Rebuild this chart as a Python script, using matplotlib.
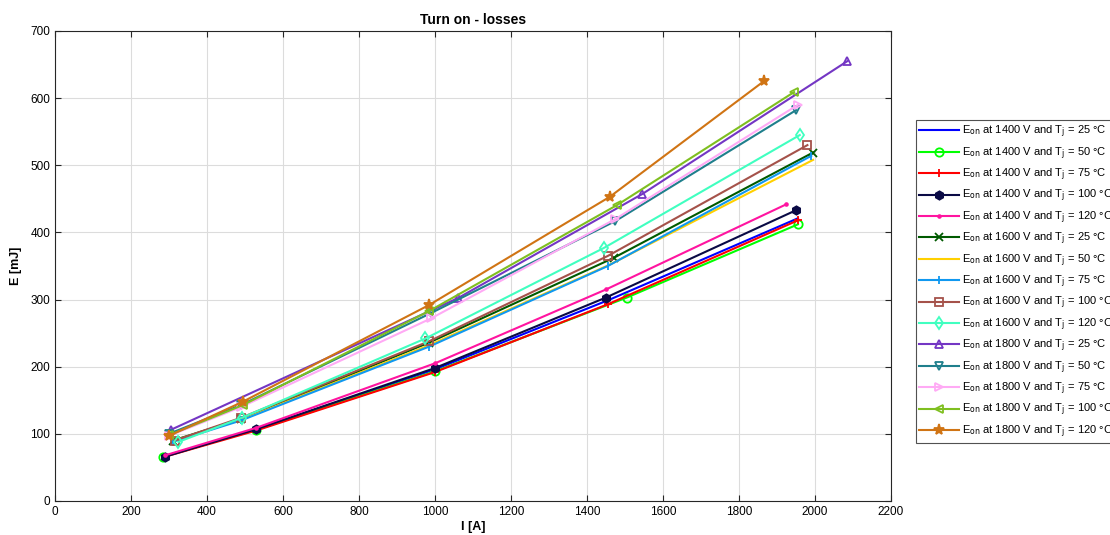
import matplotlib.pyplot as plt

# 电流 / 能量数据
i_1400_25 = [290, 530, 1000, 1460, 1955]
e_1400_25 = [67, 107, 196, 300, 421]
i_1400_50 = [285, 530, 1000, 1505, 1955]
e_1400_50 = [66, 106, 193, 303, 412]
i_1400_75 = [290, 530, 1000, 1455, 1955]
e_1400_75 = [66, 105, 192, 293, 418]
i_1400_100 = [290, 530, 1000, 1450, 1950]
e_1400_100 = [66, 107, 198, 303, 433]
i_1400_120 = [290, 530, 1000, 1450, 1925]
e_1400_120 = [68, 109, 205, 315, 442]

i_1600_25 = [310, 490, 985, 1470, 1995]
e_1600_25 = [90, 122, 236, 362, 519]
i_1600_50 = [310, 490, 985, 1460, 1995]
e_1600_50 = [89, 121, 232, 352, 508]
i_1600_75 = [310, 490, 985, 1455, 1990]
e_1600_75 = [88, 120, 230, 350, 514]
i_1600_100 = [315, 490, 985, 1455, 1980]
e_1600_100 = [90, 124, 238, 365, 530]
i_1600_120 = [325, 492, 975, 1445, 1960]
e_1600_120 = [88, 124, 242, 377, 545]

i_1800_25 = [305, 1060, 1545, 2085]
e_1800_25 = [106, 302, 457, 655]
i_1800_50 = [300, 490, 990, 1475, 1950]
e_1800_50 = [100, 143, 280, 417, 582]
i_1800_75 = [300, 490, 990, 1475, 1955]
e_1800_75 = [97, 140, 272, 420, 590]
i_1800_100 = [300, 495, 985, 1480, 1945]
e_1800_100 = [98, 143, 283, 441, 609]
i_1800_120 = [300, 495, 985, 1460, 1865]
e_1800_120 = [97, 148, 292, 453, 625]

voltages = [1400] * 5 + [1600] * 5 + [1800] * 5
temps = [25, 50, 75, 100, 120] * 3
currents = [i_1400_25, i_1400_50, i_1400_75, i_1400_100, i_1400_120,
            i_1600_25, i_1600_50, i_1600_75, i_1600_100, i_1600_120,
            i_1800_25, i_1800_50, i_1800_75, i_1800_100, i_1800_120]
energies = [e_1400_25, e_1400_50, e_1400_75, e_1400_100, e_1400_120,
            e_1600_25, e_1600_50, e_1600_75, e_1600_100, e_1600_120,
            e_1800_25, e_1800_50, e_1800_75, e_1800_100, e_1800_120]

# 样式
colors = ['#0000FF', '#00FF00', '#FF0000', '#0A0A45', '#FF14A0',
          '#005A00', '#FFD000', '#1098F0', '#A5524A', '#40FFC0',
          '#7436C4', '#1F7F8C', '#FFAAF5', '#7FBF20', '#D07414']
markers = ['None', 'o', '+', 'h', '.',
           'x', 'None', '|', 's', 'd',
           '^', 'v', '>', '<', '*']
filled = [False, False, False, True, True,
          True, False, False, False, False,
          False, False, False, False, True]

plt.rcParams['font.family'] = ['Liberation Sans', 'DejaVu Sans']

fig = plt.figure(figsize=(11.1, 5.35), dpi=100)
ax = fig.add_axes([0.0495, 0.0636, 0.7532, 0.8785])

for k in range(len(currents)):
    label = r'E$_{\rm on}$ at %d V and T$_{\rm j}$ = %d °C' % (voltages[k], temps[k])
    ms = 8 if markers[k] in ('*',) else 6
    if markers[k] == '.':
        ms = 4
    ax.plot(currents[k], energies[k], color=colors[k], marker=markers[k],
            markersize=ms, markeredgewidth=1.3, lw=1.5,
            markerfacecolor=colors[k] if filled[k] else 'none',
            label=label)

ax.set_xlim(0, 2200)
ax.set_ylim(0, 700)
ax.set_xticks(range(0, 2201, 200))
ax.set_yticks(range(0, 701, 100))
ax.grid(True, color='#DCDCDC', lw=0.8)
ax.set_axisbelow(True)
ax.tick_params(direction='in', top=True, right=True, labelsize=8.5, length=4, color='#262626')
for s in ax.spines.values():
    s.set_color('#262626')
    s.set_linewidth(0.8)

ax.set_title('Turn on - losses', fontsize=10, fontweight='bold', pad=5)
ax.set_xlabel('I [A]', fontsize=9, fontweight='bold', labelpad=2)
ax.set_ylabel('E [mJ]', fontsize=9, fontweight='bold', labelpad=6)

leg = fig.legend(loc='upper left', bbox_to_anchor=(0.825, 0.775), fontsize=8,
                 frameon=True, fancybox=False, edgecolor='#262626',
                 handlelength=3.6, handletextpad=0.3, labelspacing=0.45,
                 borderpad=0.3, borderaxespad=0)
leg.get_frame().set_linewidth(0.8)

fig.savefig('out.png', dpi=100)
